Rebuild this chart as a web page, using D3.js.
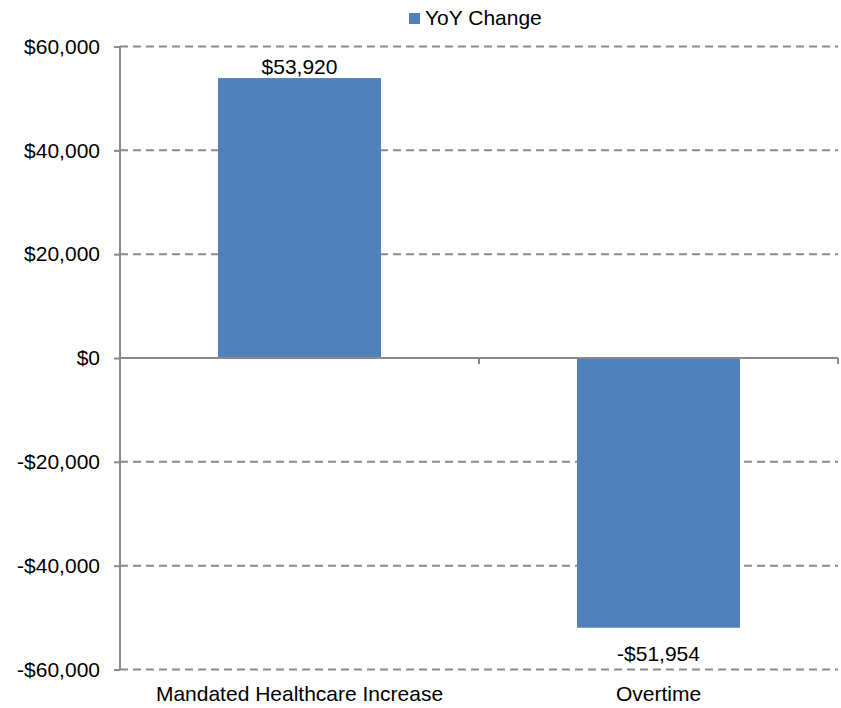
<!DOCTYPE html>
<html>
<head>
<meta charset="utf-8">
<script src="https://cdn.jsdelivr.net/npm/d3@7"></script>
<style>
  body { margin: 0; background: #fff; }
  text { font-family: "Liberation Sans", Arial, sans-serif; fill: #000; }
</style>
</head>
<body>
<div id="chart"></div>
<script>
// chart data
const categories = ["Mandated Healthcare Increase", "Overtime"];
const seriesName = "YoY Change";
const values = [53920, -51954];
const tickValues = [-60000, -40000, -20000, 0, 20000, 40000, 60000];

const W = 841, H = 708;
const margin = { top: 46.5, right: 3, bottom: 38.5, left: 120 };
const width = W - margin.left - margin.right;
const height = H - margin.top - margin.bottom;
const fontSize = "21px";

const fmt = v => (v < 0 ? "-$" : "$") + d3.format(",")(Math.abs(v));

const svg = d3.select("#chart").append("svg")
  .attr("width", W)
  .attr("height", H);

const g = svg.append("g").attr("transform", `translate(${margin.left},${margin.top})`);

const x = d3.scaleBand().domain(categories).range([0, width]).paddingInner(0.546).paddingOuter(0.273);
const y = d3.scaleLinear().domain([-60000, 60000]).range([height, 0]);

// dashed gridlines
g.append("g")
  .selectAll("line")
  .data(tickValues.filter(d => d !== 0))
  .join("line")
  .attr("x1", 0)
  .attr("x2", width)
  .attr("y1", d => y(d))
  .attr("y2", d => y(d))
  .attr("stroke", "#8a8a8a")
  .attr("stroke-width", 2)
  .attr("stroke-dasharray", "8,5");

// bars
g.selectAll("rect.bar")
  .data(values)
  .join("rect")
  .attr("class", "bar")
  .attr("x", (d, i) => x(categories[i]))
  .attr("y", d => y(Math.max(0, d)))
  .attr("width", x.bandwidth())
  .attr("height", d => Math.abs(y(d) - y(0)))
  .attr("fill", "#4f81bd");

// y axis
const yAxis = g.append("g")
  .call(d3.axisLeft(y).tickValues(tickValues).tickFormat(fmt).tickSize(6).tickPadding(14));
yAxis.select(".domain").attr("stroke", "#8a8a8a").attr("stroke-width", 2).attr("d", `M0,${height}V0`);
yAxis.selectAll(".tick line").attr("stroke", "#8a8a8a").attr("stroke-width", 2);
yAxis.selectAll(".tick text").style("font-size", fontSize).attr("fill", "#000");

// zero line with category separators
const zeroAxis = g.append("g")
  .attr("transform", `translate(0,${y(0)})`);
zeroAxis.append("line")
  .attr("x1", 0).attr("x2", width)
  .attr("stroke", "#8a8a8a").attr("stroke-width", 2);
zeroAxis.selectAll("line.sep")
  .data(d3.range(1, categories.length + 1))
  .join("line")
  .attr("class", "sep")
  .attr("x1", d => d * width / categories.length)
  .attr("x2", d => d * width / categories.length)
  .attr("y1", 0).attr("y2", 6)
  .attr("stroke", "#8a8a8a").attr("stroke-width", 2);

// category labels
g.selectAll("text.cat")
  .data(categories)
  .join("text")
  .attr("class", "cat")
  .attr("x", d => x(d) + x.bandwidth() / 2)
  .attr("y", height + 31)
  .attr("text-anchor", "middle")
  .style("font-size", fontSize)
  .text(d => d);

// value labels
g.selectAll("text.val")
  .data(values)
  .join("text")
  .attr("class", "val")
  .attr("x", (d, i) => x(categories[i]) + x.bandwidth() / 2)
  .attr("y", d => d >= 0 ? y(d) - 4 : y(d) + 33)
  .attr("text-anchor", "middle")
  .style("font-size", fontSize)
  .text(fmt);

// legend
const legend = svg.append("g").attr("transform", "translate(409,13)");
legend.append("rect").attr("width", 11).attr("height", 11).attr("fill", "#4f81bd");
legend.append("text").attr("x", 16).attr("y", 12).style("font-size", fontSize).text(seriesName);
</script>
</body>
</html>
